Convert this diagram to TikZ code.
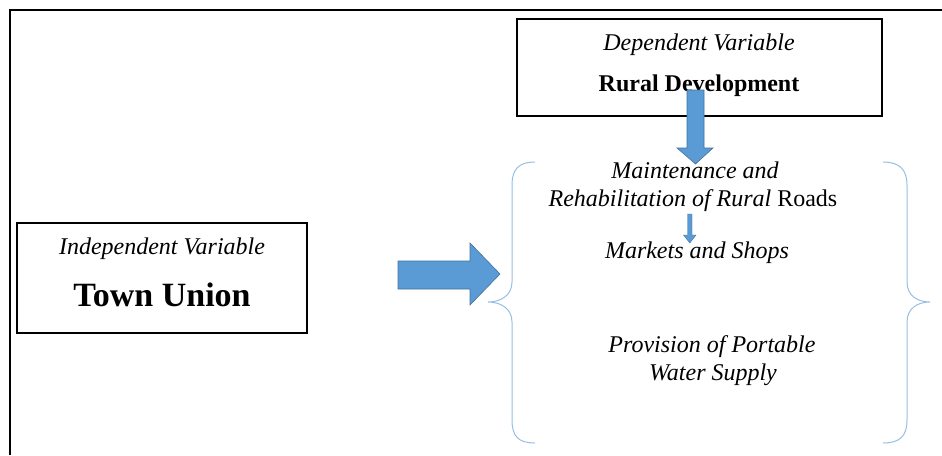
\documentclass[tikz,border=0pt]{standalone}
\usepackage{fontspec}
\setmainfont{Liberation Serif}
\definecolor{arrfill}{RGB}{91,155,213}
\definecolor{arrline}{RGB}{65,113,156}
\definecolor{bracecol}{RGB}{150,190,228}
\begin{document}
\begin{tikzpicture}[x=1pt,y=-1pt,
  box/.style={draw=black,line width=1.6pt},
  txt/.style={inner sep=0pt,anchor=base,font=\fontsize{24}{27}\selectfont},
  big/.style={inner sep=0pt,anchor=base,font=\fontsize{34}{38}\selectfont\bfseries},
  blockarrow/.style={fill=arrfill,draw=arrline,line width=0.6pt,line join=miter},
  brace/.style={draw=bracecol,line width=1pt}]
\useasboundingbox (0,0) rectangle (942,455);
% outer frame
\draw[line width=2.4pt] (10,455) -- (10,10) -- (942,10);
% top box
\draw[box] (517,19) rectangle (882,116);
\node[txt] (dv) at (699,50) {\itshape Dependent Variable};
\node[txt,font=\fontsize{24}{27}\selectfont\bfseries] (rd) at (699,91) {Rural Development};
% left box
\draw[box] (17,223) rectangle (307,333);
\node[txt] (iv) at (162,254) {\itshape Independent Variable};
\node[big] (tu) at (162,306) {Town Union};
% right block arrow
\draw[blockarrow] (398,261) -- (470,261) -- (470,243) -- (500,274) -- (470,305) -- (470,289) -- (398,289) -- cycle;
% down block arrow
\draw[blockarrow] (687,90) -- (704,90) -- (704,148) -- (713,148) -- (695.5,164) -- (677,148) -- (687,148) -- cycle;
% braces
\draw[brace] (535,162) .. controls (518,162) and (512,170) .. (512,185)
  -- (512,282) .. controls (512,296) and (500,302) .. (488,302)
  .. controls (500,302) and (512,308) .. (512,322)
  -- (512,420) .. controls (512,436) and (518,443) .. (535,443);
\draw[brace] (883,162) .. controls (900,162) and (907,170) .. (907,185)
  -- (907,282) .. controls (907,296) and (918,302) .. (930,302)
  .. controls (918,302) and (907,308) .. (907,322)
  -- (907,420) .. controls (907,436) and (900,443) .. (883,443);
% texts in brace
\node[txt] (m1) at (695,178) {\itshape Maintenance and};
\node[txt] (m2) at (693,206) {\itshape Rehabilitation of Rural \upshape Roads};
\node[txt] (ms) at (697,258) {\itshape Markets and Shops};
\node[txt] (p1) at (712,352) {\itshape Provision of Portable};
\node[txt] (p2) at (713,380) {\itshape Water Supply};
% small arrow
\draw[blockarrow,line width=0.4pt] (687.5,214) -- (692,214) -- (692,235) -- (696,235) -- (689.8,243) -- (683.5,235) -- (687.5,235) -- cycle;
\end{tikzpicture}
\end{document}
